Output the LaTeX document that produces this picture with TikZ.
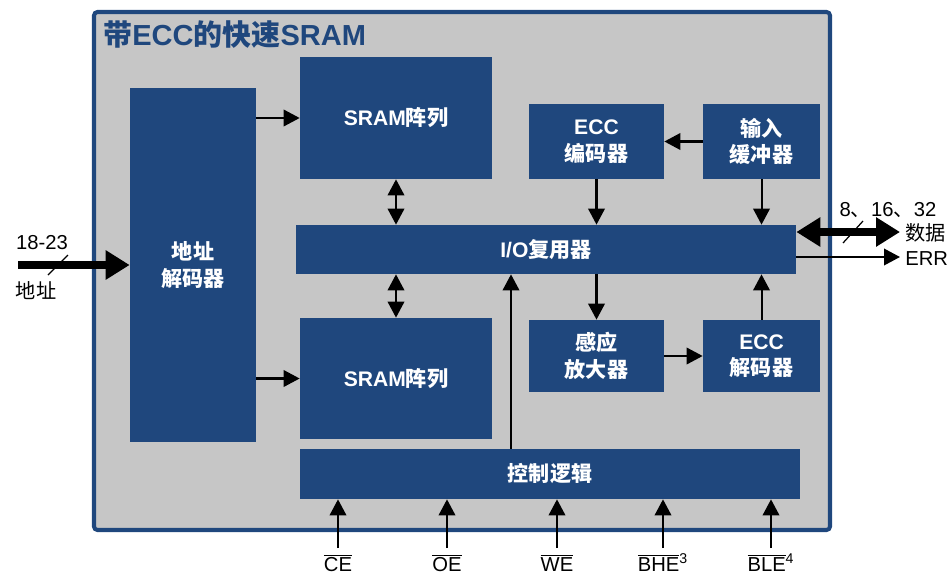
\documentclass[tikz,border=0pt]{standalone}
\usepackage{fontspec}
\setmainfont{Liberation Sans}
\newfontfamily\cjk{Noto Sans CJK SC}
\usepackage{tikz}
\usetikzlibrary{arrows.meta}
\usetikzlibrary{positioning}
\definecolor{chipblue}{HTML}{1F477D}
\definecolor{chipgray}{HTML}{C6C6C6}

\begin{document}
\begin{tikzpicture}[
    blk/.style = {rectangle, fill=chipblue, text=white, align=center, inner sep=0pt,
                  font=\fontsize{12}{15}\selectfont\bfseries},
    arr/.style = {line width=1.15pt, -{Triangle[length=3.2mm,width=3.3mm]}},
    dbl/.style = {line width=1.15pt, {Triangle[length=3.2mm,width=3.3mm]}-{Triangle[length=3.2mm,width=3.3mm]}},
    fat/.style = {line width=4.5pt, -{Triangle[length=4.8mm,width=5.6mm]}},
    lbl/.style = {font=\fontsize{11.5}{13}\selectfont, inner sep=0pt}]
    \useasboundingbox (0,0) rectangle (19,11.48);
    % chip outline
    \draw[chipblue, line width=2.3pt, fill=chipgray, rounded corners=2pt] (1.88,0.88) rectangle (16.6,11.24);
    \node[anchor=west, inner sep=0pt, text=chipblue, font=\fontsize{16.5}{18}\selectfont\bfseries] (title) at (2.06,10.78)
        {{\cjk 带}ECC{\cjk 的快速}SRAM};
    % blocks
    \node[blk, minimum width=2.52cm, minimum height=7.08cm] (dec) at (3.86,6.18) {{\cjk 地址}\\{\cjk 解码器}};
    \node[blk, minimum width=3.84cm, minimum height=2.44cm] (sramA) at (7.92,9.12) {SRAM{\cjk 阵列}};
    \node[blk, minimum width=3.84cm, minimum height=2.42cm] (sramB) at (7.92,3.91) {SRAM{\cjk 阵列}};
    \node[blk, minimum width=2.70cm, minimum height=1.50cm] (enc) at (11.93,8.65) {ECC\\{\cjk 编码器}};
    \node[blk, minimum width=2.34cm, minimum height=1.50cm] (buf) at (15.23,8.65) {{\cjk 输入}\\{\cjk 缓冲器}};
    \node[blk, minimum width=10cm, minimum height=0.98cm] (mux) at (10.92,6.49) {I/O{\cjk 复用器}};
    \node[blk, minimum width=2.70cm, minimum height=1.44cm] (sense) at (11.93,4.36) {{\cjk 感应}\\{\cjk 放大器}};
    \node[blk, minimum width=2.34cm, minimum height=1.44cm] (eccdec) at (15.23,4.36) {ECC\\{\cjk 解码器}};
    \node[blk, minimum width=10cm, minimum height=1cm] (ctrl) at (11,2) {{\cjk 控制逻辑}};
    % internal connections
    \draw[arr] (dec.east |- sramA.west) -- (sramA.west);
    \draw[arr] (dec.east |- sramB.west) -- (sramB.west);
    \draw[dbl] (sramA.south) -- (sramA.south |- mux.north);
    \draw[dbl] (sramB.north |- mux.south) -- (sramB.north);
    \draw[arr] (buf.west) -- (enc.east);
    \draw[arr] (enc.south) -- (enc.south |- mux.north);
    \draw[arr] (buf.south) -- (buf.south |- mux.north);
    \draw[arr] (sense.north |- mux.south) -- (sense.north);
    \draw[arr] (sense.east) -- (eccdec.west);
    \draw[arr] (eccdec.north) -- (eccdec.north |- mux.south);
    \coordinate (ctrlout) at ([xshift=-0.78cm]ctrl.north);
    \draw[arr] (ctrlout) -- (ctrlout |- mux.south);
    % address input
    \coordinate (adrin) at (0.36,6.18);
    \draw[fat] (adrin) -- (dec.west);
    \draw[line width=0.7pt] (0.96,5.98) -- (1.36,6.38);
    \node[lbl] (adrw) at (0.84,6.62) {18-23};
    \node[lbl] (adrt) at (0.72,5.66) {\cjk 地址};
    % data and error outputs
    \coordinate (dataout) at (18,6.84);
    \coordinate (errout) at (18,6.34);
    \draw[line width=4.5pt, {Triangle[length=4.8mm,width=5.6mm]}-{Triangle[length=4.8mm,width=5.6mm]}]
        (mux.east |- dataout) -- (dataout);
    \draw[line width=0.7pt] (16.86,6.62) -- (17.26,7.06);
    \draw[arr] (mux.east |- errout) -- (errout);
    \node[lbl] (dataw) at (17.76,7.28) {8{\cjk 、}16{\cjk 、}32};
    \node[lbl, anchor=west] (datat) at (18.1,6.82) {\cjk 数据};
    \node[lbl, anchor=west] (errt) at (18.1,6.3) {ERR};
    % control inputs
    \foreach \x/\n/\t in {6.76/ce/{$\overline{\mbox{CE}}$}, 8.94/oe/{$\overline{\mbox{OE}}$},
                          11.14/we/{$\overline{\mbox{WE}}$}, 13.26/bhe/{$\overline{\mbox{BHE}}$\textsuperscript{3}},
                          15.42/ble/{$\overline{\mbox{BLE}}$\textsuperscript{4}}} {
        \node[lbl, anchor=north] (\n) at (\x,0.41) {\t};
        \draw[arr] (\x,0.52) -- (\x,0 |- ctrl.south);
    }
\end{tikzpicture}
\end{document}
